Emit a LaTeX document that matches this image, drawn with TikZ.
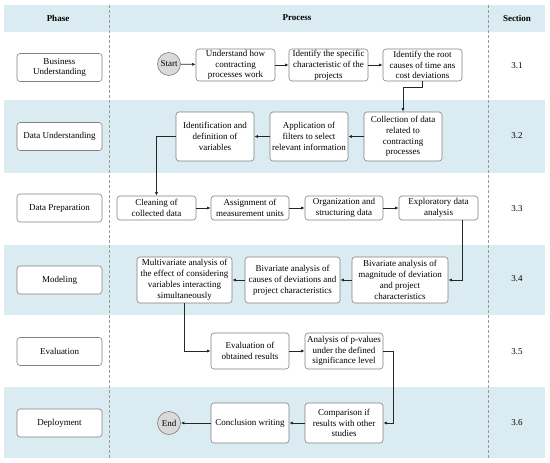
\documentclass[tikz,border=0pt]{standalone}
\usepackage{fontspec}
\setmainfont{Liberation Serif}
\usetikzlibrary{arrows.meta}
\definecolor{band}{RGB}{218,235,242}
\definecolor{bord}{RGB}{128,128,128}
\definecolor{circ}{RGB}{217,217,217}
\begin{document}
\begin{tikzpicture}[x=1pt,y=-1pt,
  pbox/.style={draw=bord, line width=0.6pt, rounded corners=3pt, fill=white, align=center, inner sep=0pt, font=\fontsize{9}{10.8}\selectfont},
  phbox/.style={pbox, minimum width=85pt, minimum height=28pt},
  term/.style={circle, draw=bord, line width=0.6pt, fill=circ, inner sep=0pt, minimum size=23pt, font=\fontsize{9}{10.8}\selectfont},
  hdr/.style={font=\fontsize{9}{10.8}\selectfont\bfseries},
  sec/.style={font=\fontsize{9}{10.8}\selectfont},
  arr/.style={draw=black!85, line width=0.8pt, -{Latex[length=3.5pt,width=3pt]}},
  sep/.style={draw=bord!80, line width=0.6pt, dash pattern=on 3pt off 2pt}]
\useasboundingbox (0,0) rectangle (550,463);
% bands
\fill[band] (4,5) rectangle (545,32);
\fill[band] (4,100) rectangle (545,173);
\fill[band] (4,245) rectangle (545,315);
\fill[band] (4,387) rectangle (545,458);
% separators
\draw[sep] (109,5) -- (109,458);
\draw[sep] (488,5) -- (488,458);
% headers
\node[hdr] (hphase) at (58,18) {Phase};
\node[hdr] (hproc) at (297,18) {Process};
\node[hdr] (hsec) at (517,18) {Section};
% phases
\node[phbox] (p1) at (59.5,67.5) {Business\\Understanding};
\node[phbox] (p2) at (59.5,136.5) {Data Understanding};
\node[phbox] (p3) at (59.5,208) {Data Preparation};
\node[phbox] (p4) at (59.5,280) {Modeling};
\node[phbox] (p5) at (59.5,351.5) {Evaluation};
\node[phbox] (p6) at (59.5,423) {Deployment};
% sections
\node[sec] (s1) at (517,66) {3.1};
\node[sec] (s2) at (517,136) {3.2};
\node[sec] (s3) at (517,209) {3.3};
\node[sec] (s4) at (517,279) {3.4};
\node[sec] (s5) at (517,352) {3.5};
\node[sec] (s6) at (517,423) {3.6};
% row 1
\node[term] (start) at (169,64) {Start};
\node[pbox, minimum width=79pt, minimum height=32pt] (b1) at (235.5,65) {Understand how\\contracting\\processes work};
\node[pbox, minimum width=79pt, minimum height=32pt] (b2) at (328.5,65) {Identify the specific\\characteristic of the\\projects};
\node[pbox, minimum width=79pt, minimum height=32pt] (b3) at (422.5,65) {Identify the root\\causes of time ans\\cost deviations};
% row 2
\node[pbox, minimum width=78pt, minimum height=49pt] (coll) at (403,136.5) {Collection of data\\related to\\contracting\\processes};
\node[pbox, minimum width=78pt, minimum height=49pt] (app) at (309,136.5) {Application of\\filters to select\\relevant information};
\node[pbox, minimum width=78pt, minimum height=49pt] (ident) at (215,136.5) {Identification and\\definition of\\variables};
% row 3
\node[pbox, minimum width=79pt, minimum height=24pt] (clean) at (156.5,208) {Cleaning of\\collected data};
\node[pbox, minimum width=78pt, minimum height=24pt] (assign) at (250,208) {Assignment of\\measurement units};
\node[pbox, minimum width=78pt, minimum height=24pt] (org) at (344,208) {Organization and\\structuring data};
\node[pbox, minimum width=79pt, minimum height=24pt] (expl) at (438.5,208) {Exploratory data\\analysis};
% row 4
\node[pbox, minimum width=96pt, minimum height=46pt] (mag) at (400,280) {Bivariate analysis of\\magnitude of deviation\\and project\\characteristics};
\node[pbox, minimum width=95pt, minimum height=46pt] (caus) at (292.5,280) {Bivariate analysis of\\causes of deviations and\\project characteristics};
\node[pbox, minimum width=95pt, minimum height=46pt] (multi) at (184.5,280) {Multivariate analysis of\\the effect of considering\\variables interacting\\simultaneously};
% row 5
\node[pbox, minimum width=78pt, minimum height=36pt] (eval) at (250,351) {Evaluation of\\obtained results};
\node[pbox, minimum width=78pt, minimum height=36pt] (anal) at (344,351) {Analysis of p-values\\under the defined\\significance level};
% row 6
\node[pbox, minimum width=78pt, minimum height=40pt] (comp) at (344,423) {Comparison if\\results with other\\studies};
\node[pbox, minimum width=78pt, minimum height=40pt] (concl) at (250,423) {Conclusion writing};
\node[term] (end) at (169,423) {End};
% connectors
\draw[arr] (start) -- (b1);
\draw[arr] (b1) -- (b2);
\draw[arr] (b2) -- (b3);
\draw[arr] (b3.south) -- ++(0,6) -| (coll.north);
\draw[arr] (coll) -- (app);
\draw[arr] (app) -- (ident);
\draw[arr] (ident.west) -| (clean.north);
\draw[arr] (clean) -- (assign);
\draw[arr] (assign) -- (org);
\draw[arr] (org) -- (expl);
\draw[arr] ([xshift=23.5pt]expl.south) |- (mag.east);
\draw[arr] (mag) -- (caus);
\draw[arr] (caus) -- (multi);
\draw[arr] (multi.south) |- (eval.west);
\draw[arr] (eval) -- (anal);
\draw[arr] (anal.east) -- ++(10,0) |- (comp.east);
\draw[arr] (comp) -- (concl);
\draw[arr] (concl) -- (end);
\end{tikzpicture}
\end{document}
